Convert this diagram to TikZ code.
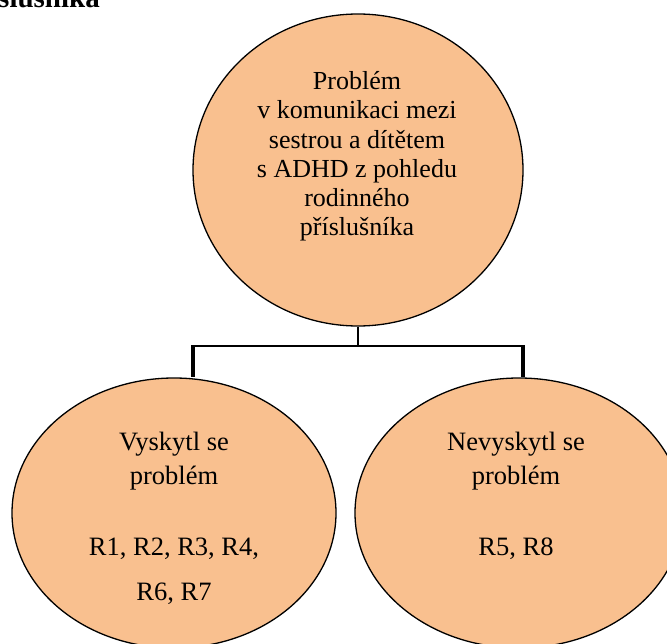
\documentclass[tikz,border=0pt]{standalone}
\usepackage{fontspec}
\setmainfont{Liberation Serif}
\usetikzlibrary{shapes.geometric}
\definecolor{peach}{RGB}{249,192,143}
\tikzset{
  bubble/.style={ellipse, draw=black, line width=1.3pt, fill=peach, inner sep=0pt},
  toptxt/.style={anchor=base, inner sep=0pt, font=\fontsize{26}{29}\selectfont},
  bottxt/.style={anchor=base, inner sep=0pt, font=\fontsize{26.5}{30}\selectfont},
  thin link/.style={line width=1.3pt},
  thick link/.style={line width=4pt},
}
\begin{document}
\begin{tikzpicture}[x=1pt,y=-1pt]
\useasboundingbox (0,0) rectangle (667,644);
\clip (0,0) rectangle (667,644);
% title fragment
\node[anchor=base east, inner sep=0pt, font=\bfseries\fontsize{29}{32}\selectfont] (title) at (100,8) {příslušníka};
% ellipses
\node[bubble, minimum width=330pt, minimum height=312pt] (top) at (358,170) {};
\node[bubble, minimum width=324pt, minimum height=270pt] (left) at (174,513) {};
\node[bubble, minimum width=328pt, minimum height=270pt] (right) at (519,513) {};
% connectors
\coordinate (j) at (358,346);
\coordinate (bl) at (193,346);
\coordinate (br) at (523,346);
\draw[thin link] (top.south) -- (j);
\draw[thin link] ([xshift=-2pt]bl) -- ([xshift=2pt]br);
\draw[thick link] (bl) -- (bl |- left.north);
\draw[thick link] (br) -- (br |- right.north);
% top text
\node[toptxt] (t1) at (357,90) {Problém};
\node[toptxt] (t2) at (357,119) {v komunikaci mezi};
\node[toptxt] (t3) at (357,148.5) {sestrou a dítětem};
\node[toptxt] (t4) at (357,178) {s ADHD z pohledu};
\node[toptxt] (t5) at (357,207) {rodinného};
\node[toptxt] (t6) at (357,236) {příslušníka};
% left text
\node[bottxt] (l1) at (174,450) {Vyskytl se};
\node[bottxt] (l2) at (174,484) {problém};
\node[bottxt] (l3) at (174,555) {R1, R2, R3, R4,};
\node[bottxt] (l4) at (174,600) {R6, R7};
% right text
\node[bottxt] (r1) at (516,450) {Nevyskytl se};
\node[bottxt] (r2) at (516,484) {problém};
\node[bottxt] (r3) at (516,555) {R5, R8};
\end{tikzpicture}
\end{document}
